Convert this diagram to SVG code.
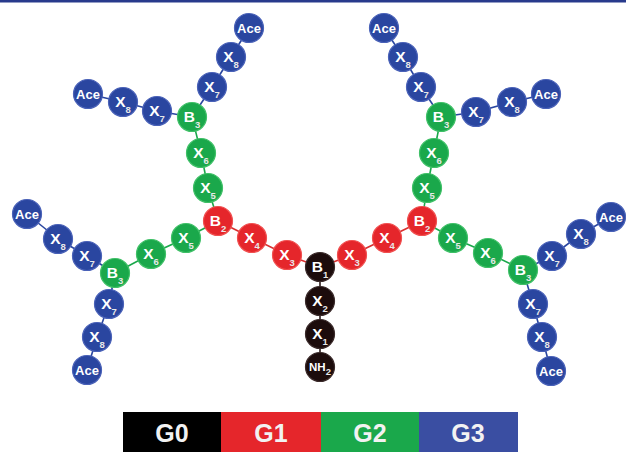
<svg xmlns="http://www.w3.org/2000/svg" width="626" height="452" viewBox="0 0 626 452">
  <style>
    .n circle { stroke-width: 1.2; }
    .g0 circle { fill: #1c0c0c; stroke: #3a2a2a; }
    .g1 circle { fill: #e5262b; stroke: #f05050; }
    .g2 circle { fill: #1aa84b; stroke: #40c068; }
    .g3 circle { fill: #2a46a0; stroke: #4a62b8; }
    .n text { font-family: "Liberation Sans", Arial, sans-serif; font-weight: bold; fill: #ffffff; text-anchor: middle; font-size: 15.5px; }
    .n text.ace { font-size: 13px; }
    .n text.nh { font-size: 11.5px; }
    .sub { font-size: 9.5px; fill: #e8e8e8; }
    .c line { stroke-width: 1.6; }
    .c0 { stroke: #2a1a1a; }
    .c1 { stroke: #d83030; }
    .c2 { stroke: #1aa84b; }
    .c3 { stroke: #2a46a0; }
    .leg text { font-family: "Liberation Sans", Arial, sans-serif; font-weight: bold; fill: #f2f2f2; font-size: 25px; text-anchor: middle; }
  </style>

  <rect x="0" y="0" width="626" height="452" fill="#ffffff"/>
  <rect x="0" y="0" width="626" height="2.5" fill="#283a8c"/>

  <!-- bonds between residues -->
  <g id="connectors" class="c">
    <!-- core G0 -->
    <line class="c0" x1="320" y1="267" x2="320" y2="301"/>
    <line class="c0" x1="320" y1="301" x2="320" y2="334"/>
    <line class="c0" x1="320" y1="334" x2="320" y2="367"/>
    <!-- G1 -->
    <line class="c1" x1="320" y1="267" x2="287" y2="255"/>
    <line class="c1" x1="287" y1="255" x2="252" y2="238"/>
    <line class="c1" x1="252" y1="238" x2="218" y2="221"/>
    <line class="c1" x1="320" y1="267" x2="352" y2="255"/>
    <line class="c1" x1="352" y1="255" x2="387" y2="238"/>
    <line class="c1" x1="387" y1="238" x2="422" y2="221"/>
    <!-- G2 left -->
    <line class="c2" x1="218" y1="221" x2="208" y2="188"/>
    <line class="c2" x1="208" y1="188" x2="201" y2="153"/>
    <line class="c2" x1="201" y1="153" x2="192" y2="117"/>
    <line class="c2" x1="218" y1="221" x2="186" y2="238"/>
    <line class="c2" x1="186" y1="238" x2="151" y2="254"/>
    <line class="c2" x1="151" y1="254" x2="115" y2="273"/>
    <!-- G2 right -->
    <line class="c2" x1="422" y1="221" x2="427" y2="188"/>
    <line class="c2" x1="427" y1="188" x2="434" y2="153"/>
    <line class="c2" x1="434" y1="153" x2="441" y2="117"/>
    <line class="c2" x1="422" y1="221" x2="453" y2="238"/>
    <line class="c2" x1="453" y1="238" x2="488" y2="253"/>
    <line class="c2" x1="488" y1="253" x2="523" y2="270"/>
    <!-- G3 upper left -->
    <line class="c3" x1="192" y1="117" x2="212" y2="87"/>
    <line class="c3" x1="212" y1="87" x2="231" y2="57"/>
    <line class="c3" x1="231" y1="57" x2="249" y2="28"/>
    <line class="c3" x1="192" y1="117" x2="157" y2="111"/>
    <line class="c3" x1="157" y1="111" x2="123" y2="102"/>
    <line class="c3" x1="123" y1="102" x2="88" y2="94"/>
    <!-- G3 lower left -->
    <line class="c3" x1="115" y1="273" x2="87" y2="256"/>
    <line class="c3" x1="87" y1="256" x2="58" y2="239"/>
    <line class="c3" x1="58" y1="239" x2="27" y2="214"/>
    <line class="c3" x1="115" y1="273" x2="109" y2="304"/>
    <line class="c3" x1="109" y1="304" x2="97" y2="337"/>
    <line class="c3" x1="97" y1="337" x2="87" y2="370"/>
    <!-- G3 upper right -->
    <line class="c3" x1="441" y1="117" x2="421" y2="87"/>
    <line class="c3" x1="421" y1="87" x2="403" y2="57"/>
    <line class="c3" x1="403" y1="57" x2="384" y2="28"/>
    <line class="c3" x1="441" y1="117" x2="476" y2="112"/>
    <line class="c3" x1="476" y1="112" x2="512" y2="102"/>
    <line class="c3" x1="512" y1="102" x2="546" y2="94"/>
    <!-- G3 lower right -->
    <line class="c3" x1="523" y1="270" x2="552" y2="256"/>
    <line class="c3" x1="552" y1="256" x2="581" y2="234"/>
    <line class="c3" x1="581" y1="234" x2="611" y2="217"/>
    <line class="c3" x1="523" y1="270" x2="533" y2="304"/>
    <line class="c3" x1="533" y1="304" x2="542" y2="337"/>
    <line class="c3" x1="542" y1="337" x2="551" y2="371"/>
  </g>

  <!-- G0 core -->
  <g id="b1" class="n g0"><circle cx="320" cy="267" r="14.5"/><text x="320" y="272">B<tspan class="sub" dy="6">1</tspan></text></g>
  <g id="x2" class="n g0"><circle cx="320" cy="301" r="14.5"/><text x="320" y="306">X<tspan class="sub" dy="6">2</tspan></text></g>
  <g id="x1" class="n g0"><circle cx="320" cy="334" r="14.5"/><text x="320" y="339">X<tspan class="sub" dy="6">1</tspan></text></g>
  <g id="nh2" class="n g0"><circle cx="320" cy="367" r="14.5"/><text class="nh" x="320" y="371">NH<tspan class="sub" font-size="7.5" dy="3.5">2</tspan></text></g>

  <!-- G1 -->
  <g id="x3-l" class="n g1"><circle cx="287" cy="255" r="14.5"/><text x="287" y="260">X<tspan class="sub" dy="6">3</tspan></text></g>
  <g id="x4-l" class="n g1"><circle cx="252" cy="238" r="14.5"/><text x="252" y="243">X<tspan class="sub" dy="6">4</tspan></text></g>
  <g id="b2-l" class="n g1"><circle cx="218" cy="221" r="14.5"/><text x="218" y="226">B<tspan class="sub" dy="6">2</tspan></text></g>
  <g id="x3-r" class="n g1"><circle cx="352" cy="255" r="14.5"/><text x="352" y="260">X<tspan class="sub" dy="6">3</tspan></text></g>
  <g id="x4-r" class="n g1"><circle cx="387" cy="238" r="14.5"/><text x="387" y="243">X<tspan class="sub" dy="6">4</tspan></text></g>
  <g id="b2-r" class="n g1"><circle cx="422" cy="221" r="14.5"/><text x="422" y="226">B<tspan class="sub" dy="6">2</tspan></text></g>

  <!-- G2 left -->
  <g id="x5-lu" class="n g2"><circle cx="208" cy="188" r="14.5"/><text x="208" y="193">X<tspan class="sub" dy="6">5</tspan></text></g>
  <g id="x6-lu" class="n g2"><circle cx="201" cy="153" r="14.5"/><text x="201" y="158">X<tspan class="sub" dy="6">6</tspan></text></g>
  <g id="b3-lu" class="n g2"><circle cx="192" cy="117" r="14.5"/><text x="192" y="122">B<tspan class="sub" dy="6">3</tspan></text></g>
  <g id="x5-ll" class="n g2"><circle cx="186" cy="238" r="14.5"/><text x="186" y="243">X<tspan class="sub" dy="6">5</tspan></text></g>
  <g id="x6-ll" class="n g2"><circle cx="151" cy="254" r="14.5"/><text x="151" y="259">X<tspan class="sub" dy="6">6</tspan></text></g>
  <g id="b3-ll" class="n g2"><circle cx="115" cy="273" r="14.5"/><text x="115" y="278">B<tspan class="sub" dy="6">3</tspan></text></g>

  <!-- G2 right -->
  <g id="x5-ru" class="n g2"><circle cx="427" cy="188" r="14.5"/><text x="427" y="193">X<tspan class="sub" dy="6">5</tspan></text></g>
  <g id="x6-ru" class="n g2"><circle cx="434" cy="153" r="14.5"/><text x="434" y="158">X<tspan class="sub" dy="6">6</tspan></text></g>
  <g id="b3-ru" class="n g2"><circle cx="441" cy="117" r="14.5"/><text x="441" y="122">B<tspan class="sub" dy="6">3</tspan></text></g>
  <g id="x5-rl" class="n g2"><circle cx="453" cy="238" r="14.5"/><text x="453" y="243">X<tspan class="sub" dy="6">5</tspan></text></g>
  <g id="x6-rl" class="n g2"><circle cx="488" cy="253" r="14.5"/><text x="488" y="258">X<tspan class="sub" dy="6">6</tspan></text></g>
  <g id="b3-rl" class="n g2"><circle cx="523" cy="270" r="14.5"/><text x="523" y="275">B<tspan class="sub" dy="6">3</tspan></text></g>

  <!-- G3 upper left -->
  <g id="x7-lu-a" class="n g3"><circle cx="212" cy="87" r="14.5"/><text x="212" y="92">X<tspan class="sub" dy="6">7</tspan></text></g>
  <g id="x8-lu-a" class="n g3"><circle cx="231" cy="57" r="14.5"/><text x="231" y="62">X<tspan class="sub" dy="6">8</tspan></text></g>
  <g id="ace-lu-a" class="n g3"><circle cx="249" cy="28" r="14.5"/><text class="ace" x="249" y="32.5">Ace</text></g>
  <g id="x7-lu-b" class="n g3"><circle cx="157" cy="111" r="14.5"/><text x="157" y="116">X<tspan class="sub" dy="6">7</tspan></text></g>
  <g id="x8-lu-b" class="n g3"><circle cx="123" cy="102" r="14.5"/><text x="123" y="107">X<tspan class="sub" dy="6">8</tspan></text></g>
  <g id="ace-lu-b" class="n g3"><circle cx="88" cy="94" r="14.5"/><text class="ace" x="88" y="98.5">Ace</text></g>

  <!-- G3 lower left -->
  <g id="x7-ll-a" class="n g3"><circle cx="87" cy="256" r="14.5"/><text x="87" y="261">X<tspan class="sub" dy="6">7</tspan></text></g>
  <g id="x8-ll-a" class="n g3"><circle cx="58" cy="239" r="14.5"/><text x="58" y="244">X<tspan class="sub" dy="6">8</tspan></text></g>
  <g id="ace-ll-a" class="n g3"><circle cx="27" cy="214" r="14.5"/><text class="ace" x="27" y="218.5">Ace</text></g>
  <g id="x7-ll-b" class="n g3"><circle cx="109" cy="304" r="14.5"/><text x="109" y="309">X<tspan class="sub" dy="6">7</tspan></text></g>
  <g id="x8-ll-b" class="n g3"><circle cx="97" cy="337" r="14.5"/><text x="97" y="342">X<tspan class="sub" dy="6">8</tspan></text></g>
  <g id="ace-ll-b" class="n g3"><circle cx="87" cy="370" r="14.5"/><text class="ace" x="87" y="374.5">Ace</text></g>

  <!-- G3 upper right -->
  <g id="x7-ru-a" class="n g3"><circle cx="421" cy="87" r="14.5"/><text x="421" y="92">X<tspan class="sub" dy="6">7</tspan></text></g>
  <g id="x8-ru-a" class="n g3"><circle cx="403" cy="57" r="14.5"/><text x="403" y="62">X<tspan class="sub" dy="6">8</tspan></text></g>
  <g id="ace-ru-a" class="n g3"><circle cx="384" cy="28" r="14.5"/><text class="ace" x="384" y="32.5">Ace</text></g>
  <g id="x7-ru-b" class="n g3"><circle cx="476" cy="112" r="14.5"/><text x="476" y="117">X<tspan class="sub" dy="6">7</tspan></text></g>
  <g id="x8-ru-b" class="n g3"><circle cx="512" cy="102" r="14.5"/><text x="512" y="107">X<tspan class="sub" dy="6">8</tspan></text></g>
  <g id="ace-ru-b" class="n g3"><circle cx="546" cy="94" r="14.5"/><text class="ace" x="546" y="98.5">Ace</text></g>

  <!-- G3 lower right -->
  <g id="x7-rl-a" class="n g3"><circle cx="552" cy="256" r="14.5"/><text x="552" y="261">X<tspan class="sub" dy="6">7</tspan></text></g>
  <g id="x8-rl-a" class="n g3"><circle cx="581" cy="234" r="14.5"/><text x="581" y="239">X<tspan class="sub" dy="6">8</tspan></text></g>
  <g id="ace-rl-a" class="n g3"><circle cx="611" cy="217" r="14.5"/><text class="ace" x="611" y="221.5">Ace</text></g>
  <g id="x7-rl-b" class="n g3"><circle cx="533" cy="304" r="14.5"/><text x="533" y="309">X<tspan class="sub" dy="6">7</tspan></text></g>
  <g id="x8-rl-b" class="n g3"><circle cx="542" cy="337" r="14.5"/><text x="542" y="342">X<tspan class="sub" dy="6">8</tspan></text></g>
  <g id="ace-rl-b" class="n g3"><circle cx="551" cy="371" r="14.5"/><text class="ace" x="551" y="375.5">Ace</text></g>

  <!-- generation legend -->
  <g id="legend" class="leg">
    <rect x="123" y="412" width="98" height="40" fill="#000000"/>
    <rect x="221" y="412" width="100" height="40" fill="#e5262b"/>
    <rect x="321" y="412" width="98" height="40" fill="#1aa84b"/>
    <rect x="419" y="412" width="99" height="40" fill="#3a4ea2"/>
    <text x="172" y="442">G0</text>
    <text x="271" y="442">G1</text>
    <text x="370" y="442">G2</text>
    <text x="468" y="442">G3</text>
  </g>
</svg>
